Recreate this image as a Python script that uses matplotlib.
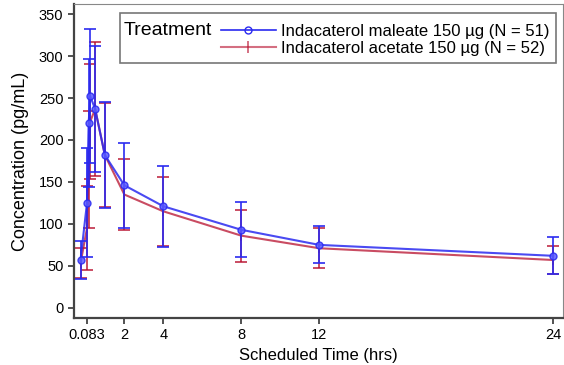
import matplotlib.pyplot as plt
from matplotlib.patches import Rectangle

plt.rcParams['font.family'] = ['Liberation Sans', 'DejaVu Sans']

# scheduled times (predose drawn just left of 0)
times = [-0.25, 0.083, 0.167, 0.25, 0.5, 1, 2, 4, 8, 12, 24]

maleate_mean = [57, 125, 220, 252, 237, 182, 146, 121, 93, 75, 62]
maleate_sd = [23, 65, 76, 80, 75, 63, 51, 48, 33, 22, 22]

acetate_mean = [53, 95, 165, 222, 237, 182, 135, 115, 86, 71, 57]
acetate_sd = [18, 50, 70, 68, 80, 62, 42, 41, 31, 24, 17]

xticks = [0.083, 2, 4, 8, 12, 24]
xticklabels = ['0.083', '2', '4', '8', '12', '24']
yticks = [0, 50, 100, 150, 200, 250, 300, 350]

blue = '#2a2af0'
red = '#b8102e'

fig = plt.figure(figsize=(5.64, 3.65), dpi=100)
ax = fig.add_axes([0.131, 0.129, 0.867, 0.86])

ax.errorbar(times, maleate_mean, yerr=maleate_sd, color=blue, lw=1.5,
            ecolor=blue, elinewidth=1.4, capsize=4.5, capthick=1.4, alpha=0.85,
            marker='o', ms=5, mfc='#5a5aff', mec=blue, zorder=3)
ax.errorbar(times, acetate_mean, yerr=acetate_sd, color=red, lw=1.5,
            ecolor=red, elinewidth=1.4, capsize=4.5, capthick=1.4, alpha=0.75,
            marker='|', ms=7, mew=1.4, zorder=2)

ax.set_xlim(-0.59, 24.5)
ax.set_ylim(-12, 362)
ax.set_xticks(xticks)
ax.set_xticklabels(xticklabels)
ax.set_yticks(yticks)
ax.tick_params(direction='out', length=4, width=1.2, labelsize=10.5, color='#333333')
ax.set_xlabel('Scheduled Time (hrs)', fontsize=12, labelpad=4)
ax.set_ylabel('Concentration (pg/mL)', fontsize=13, labelpad=7)

for s in ['top', 'right']:
    ax.spines[s].set_color('#888888')
for s in ['left', 'bottom']:
    ax.spines[s].set_color('#444444')
    ax.spines[s].set_linewidth(1.6)

# legend box with inline title
ax.add_patch(Rectangle((0.094, 0.812), 0.892, 0.159, transform=ax.transAxes,
                       fill=False, ec='#777777', lw=1.2, zorder=5))
ax.text(0.102, 0.915, 'Treatment', transform=ax.transAxes, fontsize=14,
        va='center', ha='left', zorder=6)

h1, = ax.plot([], [], color=blue, lw=1.2, marker='o', ms=5, mfc='none', mec=blue)
h2, = ax.plot([], [], color=red, lw=1.5, alpha=0.6, marker='|', ms=8, mew=1.4)
ax.legend([h1, h2],
          ['Indacaterol maleate 150 µg (N = 51)', 'Indacaterol acetate 150 µg (N = 52)'],
          loc='upper left', bbox_to_anchor=(0.3, 0.936), frameon=False,
          fontsize=12, handlelength=3.3, handletextpad=0.35,
          labelspacing=0.12, borderpad=0, borderaxespad=0)

fig.savefig('out.png', dpi=100)
